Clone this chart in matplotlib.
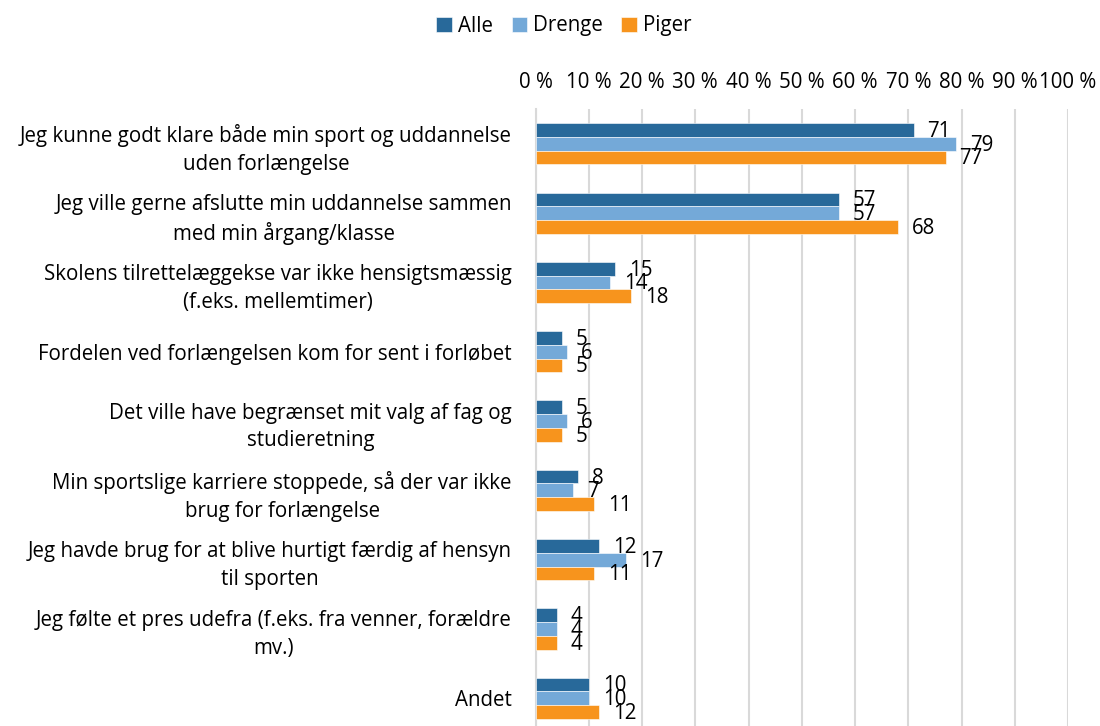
import matplotlib
matplotlib.use("Agg")
import matplotlib.pyplot as plt
import numpy as np

categories = [
    "Jeg kunne godt klare både min sport og uddannelse\nuden forlængelse",
    "Jeg ville gerne afslutte min uddannelse sammen\nmed min årgang/klasse",
    "Skolens tilrettelæggekse var ikke hensigtsmæssig\n(f.eks. mellemtimer)",
    "Fordelen ved forlængelsen kom for sent i forløbet",
    "Det ville have begrænset mit valg af fag og\nstudieretning",
    "Min sportslige karriere stoppede, så der var ikke\nbrug for forlængelse",
    "Jeg havde brug for at blive hurtigt færdig af hensyn\ntil sporten",
    "Jeg følte et pres udefra (f.eks. fra venner, forældre\nmv.)",
    "Andet",
]
series_names = ["Alle", "Drenge", "Piger"]
alle = [71, 57, 15, 5, 5, 8, 12, 4, 10]
drenge = [79, 57, 14, 6, 6, 7, 17, 4, 10]
piger = [77, 68, 18, 5, 5, 11, 11, 4, 12]
x_ticks = list(range(0, 101, 10))
x_ticklabels = [f"{t} %" for t in x_ticks]

colors = ["#28699A", "#74A9D8", "#F7941D"]

plt.rcParams['font.family'] = ['Open Sans', 'DejaVu Sans']
FS = 14.8

fig = plt.figure(figsize=(11, 7.26), dpi=100)
W, H = 1100, 726
left_px, right_px = 535.5, 1068
top_px = 109.2
height_px = 9 * 69.3
ax = fig.add_axes([left_px / W, (H - top_px - height_px) / H,
                   (right_px - left_px) / W, height_px / H])

y = np.arange(len(categories))
bh = 0.198
offsets = [-bh, 0, bh]
for vals, name, col, off in zip([alle, drenge, piger], series_names, colors, offsets):
    bars = ax.barh(y + off, vals, height=bh, color=col, label=name,
                   edgecolor="white", linewidth=0.4, zorder=3)
    for b, v in zip(bars, vals):
        ax.annotate(f"{v}", (b.get_width(), b.get_y() + b.get_height() / 2),
                    xytext=(10, -1), textcoords="offset points",
                    ha="left", va="center", fontsize=FS, color="#000000", zorder=4)

ax.set_xlim(0, 100)
ax.set_ylim(len(categories) - 0.5, -0.5)
ax.set_xticks(x_ticks)
ax.set_xticklabels(x_ticklabels, fontsize=FS)
ax.xaxis.tick_top()
ax.tick_params(axis="x", length=0, pad=12)
ax.set_yticks(y)
ax.set_yticklabels(categories, fontsize=FS, multialignment="center", linespacing=1.42)
ax.tick_params(axis="y", length=0, pad=17)
ax.grid(axis="x", color="#D9D9D9", linewidth=1.5, zorder=0)
for s in ["top", "right", "bottom"]:
    ax.spines[s].set_visible(False)
ax.spines["left"].set_color("#D9D9D9")
ax.spines["left"].set_linewidth(1.5)
ax.spines["left"].set_zorder(2)

fig.legend(loc="center", bbox_to_anchor=(564 / W, 1 - 26 / H), ncol=3,
           frameon=False, fontsize=FS, handlelength=0.75, handleheight=0.75,
           handletextpad=0.3, columnspacing=0.9)

fig.savefig("out.png", dpi=100)
